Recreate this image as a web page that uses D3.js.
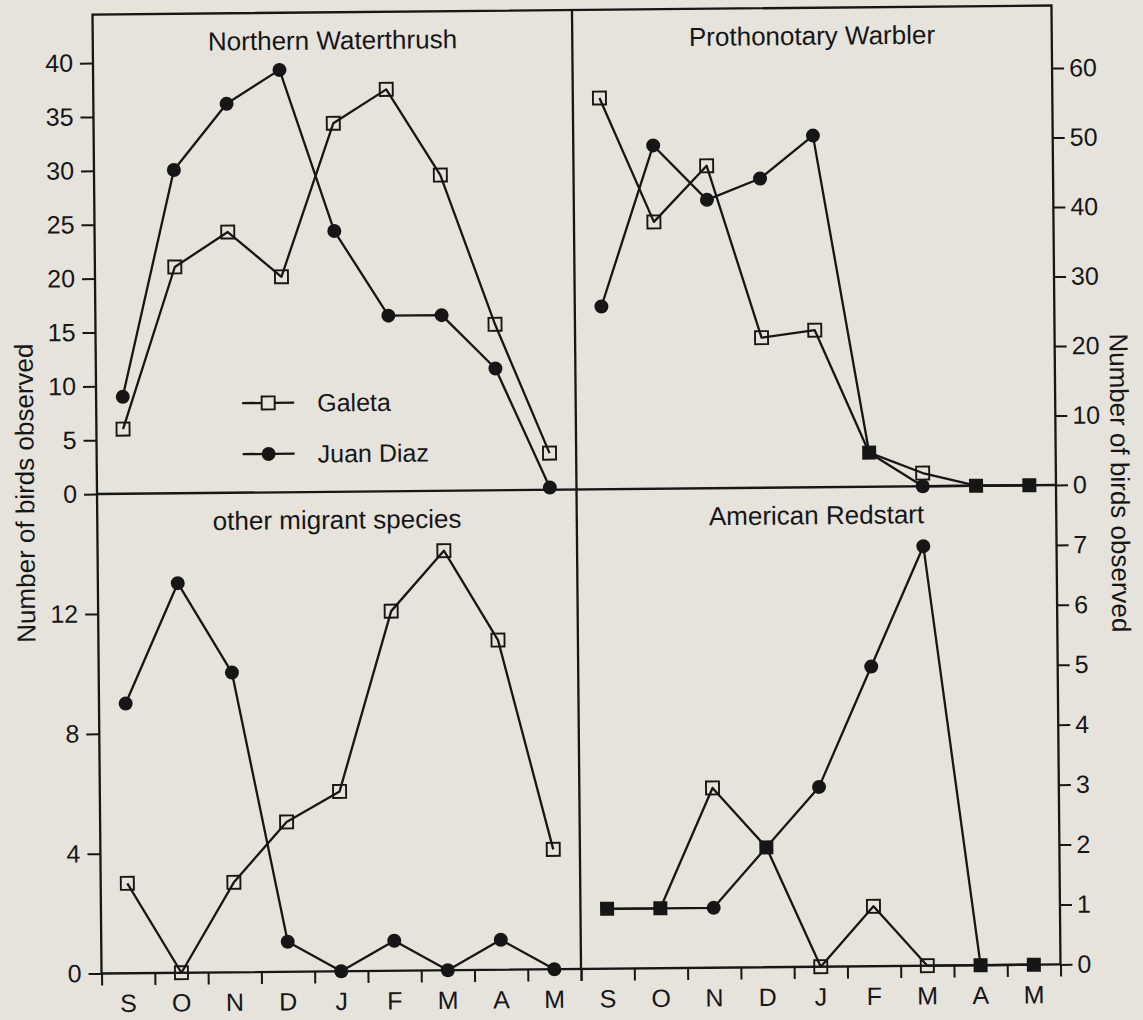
<!DOCTYPE html>
<html><head><meta charset="utf-8">
<script src="https://cdn.jsdelivr.net/npm/d3@7"></script>
<style>
html,body{margin:0;padding:0;background:#e5e3db;}
svg{display:block;}
text{font-family:"Liberation Sans",Arial,Helvetica,sans-serif;fill:#161616;}
</style></head><body>
<svg id="chart" width="1143" height="1020"></svg>
<script>
// ---- data ----
const months = ["S","O","N","D","J","F","M","A","M"];
const panelTitles = ["Northern Waterthrush","Prothonotary Warbler","other migrant species","American Redstart"];
const seriesNames = ["Galeta","Juan Diaz"];
const axisTitle = "Number of birds observed";

const waterthrushGaleta   = [6, 21, 24.2, 20, 34.2, 37.3, 29.3, 15.4, 3.4];
const waterthrushJuanDiaz = [9, 30, 36.1, 39.2, 24.2, 16.3, 16.3, 11.3, 0.2];
const prothonotaryGaleta   = [56.3, 38.4, 46.4, 21.6, 22.6, 4.9, 1.9, 0, 0];
const prothonotaryJuanDiaz = [26.3, 49.4, 41.5, 44.5, 50.6, 4.9, 0, 0, 0];
const otherGaleta   = [3, 0, 3, 5, 6, 12, 14, 11, 4];
const otherJuanDiaz = [9, 13, 10, 1, 0, 1, 0, 1, 0];
const redstartGaleta   = [1, 1, 3, 2, 0, 1, 0, 0, 0];
const redstartJuanDiaz = [1, 1, 1, 2, 3, 5, 7, 0, 0];

const ticksWaterthrush  = [0, 5, 10, 15, 20, 25, 30, 35, 40];
const ticksProthonotary = [0, 10, 20, 30, 40, 50, 60];
const ticksOther        = [0, 4, 8, 12];
const ticksRedstart     = [0, 1, 2, 3, 4, 5, 6, 7];

// ---- layout ----
const INK = "#161616";
const BG = "#e5e3db";
const X0 = 97, X1 = 1056, XM = 576.5, Y0 = 10, YM = 489.5, Y1 = 969;
const FS = 25;

const panels = [
  {title: panelTitles[0], g: waterthrushGaleta,  j: waterthrushJuanDiaz,  ticks: ticksWaterthrush,  max: 44.5, col: 0, row: 0},
  {title: panelTitles[1], g: prothonotaryGaleta, j: prothonotaryJuanDiaz, ticks: ticksProthonotary, max: 69,   col: 1, row: 0},
  {title: panelTitles[2], g: otherGaleta,        j: otherJuanDiaz,        ticks: ticksOther,        max: 16,   col: 0, row: 1},
  {title: panelTitles[3], g: redstartGaleta,     j: redstartJuanDiaz,     ticks: ticksRedstart,     max: 8,    col: 1, row: 1}
];

const svg = d3.select("#chart");
svg.append("rect").attr("width", 1143).attr("height", 1020).attr("fill", BG);
const root = svg.append("g").attr("transform", `rotate(-0.54, ${XM}, ${YM})`);

panels.forEach(p => {
  const px0 = p.col ? XM : X0, px1 = p.col ? X1 : XM;
  const py0 = p.row ? YM : Y0, py1 = p.row ? Y1 : YM;
  const x = d3.scaleBand().domain(d3.range(months.length)).range([px0, px1]).padding(0);
  const cx = i => x(i) + x.bandwidth() / 2;
  const y = d3.scaleLinear().domain([0, p.max]).range([py1, py0]);
  const g = root.append("g");

  // title
  g.append("text").attr("x", (px0 + px1) / 2).attr("y", py0 + 37)
    .attr("text-anchor", "middle").attr("font-size", 26).text(p.title);

  // lines
  const line = d3.line().x((d, i) => cx(i)).y(d => y(d));
  [p.g, p.j].forEach(s => {
    g.append("path").datum(s).attr("d", line)
      .attr("fill", "none").attr("stroke", INK).attr("stroke-width", 2.3).attr("stroke-linejoin", "round");
  });

  // markers
  p.g.forEach((v, i) => {
    const same = v === p.j[i];
    if (same) {
      g.append("rect").attr("x", cx(i) - 7).attr("y", y(v) - 7).attr("width", 14).attr("height", 14).attr("fill", INK);
    } else {
      g.append("rect").attr("x", cx(i) - 6.5).attr("y", y(v) - 6.5).attr("width", 13).attr("height", 13)
        .attr("fill", "none").attr("stroke", INK).attr("stroke-width", 1.9);
      g.append("circle").attr("cx", cx(i)).attr("cy", y(p.j[i])).attr("r", 7).attr("fill", INK);
    }
  });

  // y axis
  const yAxis = p.col
    ? d3.axisRight(y).tickValues(p.ticks).tickSize(12).tickPadding(5)
    : d3.axisLeft(y).tickValues(p.ticks).tickSize(13).tickPadding(7);
  const ya = g.append("g").attr("transform", `translate(${p.col ? X1 : X0},0)`).call(yAxis);
  ya.select(".domain").remove();
  ya.selectAll("line").attr("stroke", INK).attr("stroke-width", 2);
  ya.selectAll("text").attr("font-size", FS).attr("font-family", null).attr("fill", INK);

  // x axis (bottom row only)
  if (p.row) {
    const bnd = d3.scaleLinear().domain([0, months.length]).range([px0, px1]);
    const xb = g.append("g").attr("transform", `translate(0,${Y1})`)
      .call(d3.axisBottom(bnd).tickValues(d3.range(months.length + 1)).tickSize(12).tickFormat(""));
    xb.select(".domain").remove();
    xb.selectAll("line").attr("stroke", INK).attr("stroke-width", 2);
    const xl = g.append("g").attr("transform", `translate(0,${Y1})`)
      .call(d3.axisBottom(x).tickSize(0).tickPadding(21).tickFormat(i => months[i]));
    xl.select(".domain").remove();
    xl.selectAll("text").attr("font-size", FS).attr("font-family", null).attr("fill", INK);
  }
});

// frame and dividers
root.append("rect").attr("x", X0).attr("y", Y0).attr("width", X1 - X0).attr("height", Y1 - Y0)
  .attr("fill", "none").attr("stroke", INK).attr("stroke-width", 2.3);
root.append("line").attr("x1", XM).attr("x2", XM).attr("y1", Y0).attr("y2", Y1).attr("stroke", INK).attr("stroke-width", 2.3);
root.append("line").attr("x1", X0).attr("x2", X1).attr("y1", YM).attr("y2", YM).attr("stroke", INK).attr("stroke-width", 2.3);

// legend
const legend = root.append("g");
seriesNames.forEach((name, k) => {
  const ly = 400 + k * 51;
  legend.append("line").attr("x1", 243).attr("x2", 295).attr("y1", ly).attr("y2", ly).attr("stroke", INK).attr("stroke-width", 2.3);
  if (k === 0) {
    legend.append("rect").attr("x", 269 - 6.5).attr("y", ly - 6.5).attr("width", 13).attr("height", 13)
      .attr("fill", BG).attr("stroke", INK).attr("stroke-width", 1.9);
  } else {
    legend.append("circle").attr("cx", 269).attr("cy", ly).attr("r", 7).attr("fill", INK);
  }
  legend.append("text").attr("x", 318).attr("y", ly).attr("dy", "0.36em").attr("font-size", FS).text(name);
});

// axis titles
root.append("text").attr("transform", "translate(34,488) rotate(-90)").attr("text-anchor", "middle")
  .attr("font-size", 26).text(axisTitle);
root.append("text").attr("transform", "translate(1111,488) rotate(90)").attr("text-anchor", "middle")
  .attr("font-size", 26).text(axisTitle);
</script>
</body></html>
